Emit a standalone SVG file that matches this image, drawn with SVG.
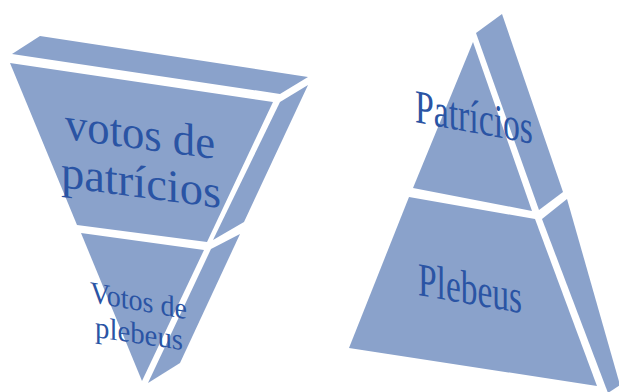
<svg xmlns="http://www.w3.org/2000/svg" width="619" height="392" viewBox="0 0 619 392">
  <style>
    .face { fill: #8aa2cb; }
    .lbl { font-family: "Liberation Serif", "DejaVu Serif", serif; fill: #2a54a4; }
  </style>
  <rect width="619" height="392" fill="#ffffff"/>

  <g id="inverted-pyramid">
    <g id="votos-patricios">
      <polygon class="face" points="12,54 40,36 308,77 280,94"/>
      <polygon class="face" points="10,63 273,102 207,242 77,225"/>
      <polygon class="face" points="280,102 308,85 244,222 213,240"/>
      <text class="lbl" font-size="44" transform="translate(65,139) skewY(7.5) scale(1,1.05)" textLength="150" lengthAdjust="spacingAndGlyphs">votos de</text>
      <text class="lbl" font-size="44" transform="translate(61,187) skewY(7.5) scale(1,1.05)" textLength="160" lengthAdjust="spacingAndGlyphs">patrícios</text>
    </g>
    <g id="votos-plebeus">
      <polygon class="face" points="81,233 204,250 142,381"/>
      <polygon class="face" points="211,249 240,234 180,363 148,383"/>
      <text class="lbl" font-size="28" transform="translate(90,302) skewY(10) scale(1,1.08)" textLength="97" lengthAdjust="spacingAndGlyphs">Votos de</text>
      <text class="lbl" font-size="28" transform="translate(95,337) skewY(8.5) scale(1,1.08)" textLength="88" lengthAdjust="spacingAndGlyphs">plebeus</text>
    </g>
  </g>

  <g id="pyramid">
    <g id="patricios">
      <polygon class="face" points="473,42 532,211 413,188"/>
      <polygon class="face" points="476,33 502,14 563,192 539,210"/>
      <text class="lbl" font-size="40" transform="translate(415,122) skewY(10.5) scale(1,1.18)" textLength="118" lengthAdjust="spacingAndGlyphs">Patrícios</text>
    </g>
    <g id="plebeus">
      <polygon class="face" points="409,197 535,219 597,386 349,348"/>
      <polygon class="face" points="542,219 567,199 620,385 608,393"/>
      <text class="lbl" font-size="40" transform="translate(418,295) skewY(10) scale(1,1.18)" textLength="104" lengthAdjust="spacingAndGlyphs">Plebeus</text>
    </g>
  </g>
</svg>
